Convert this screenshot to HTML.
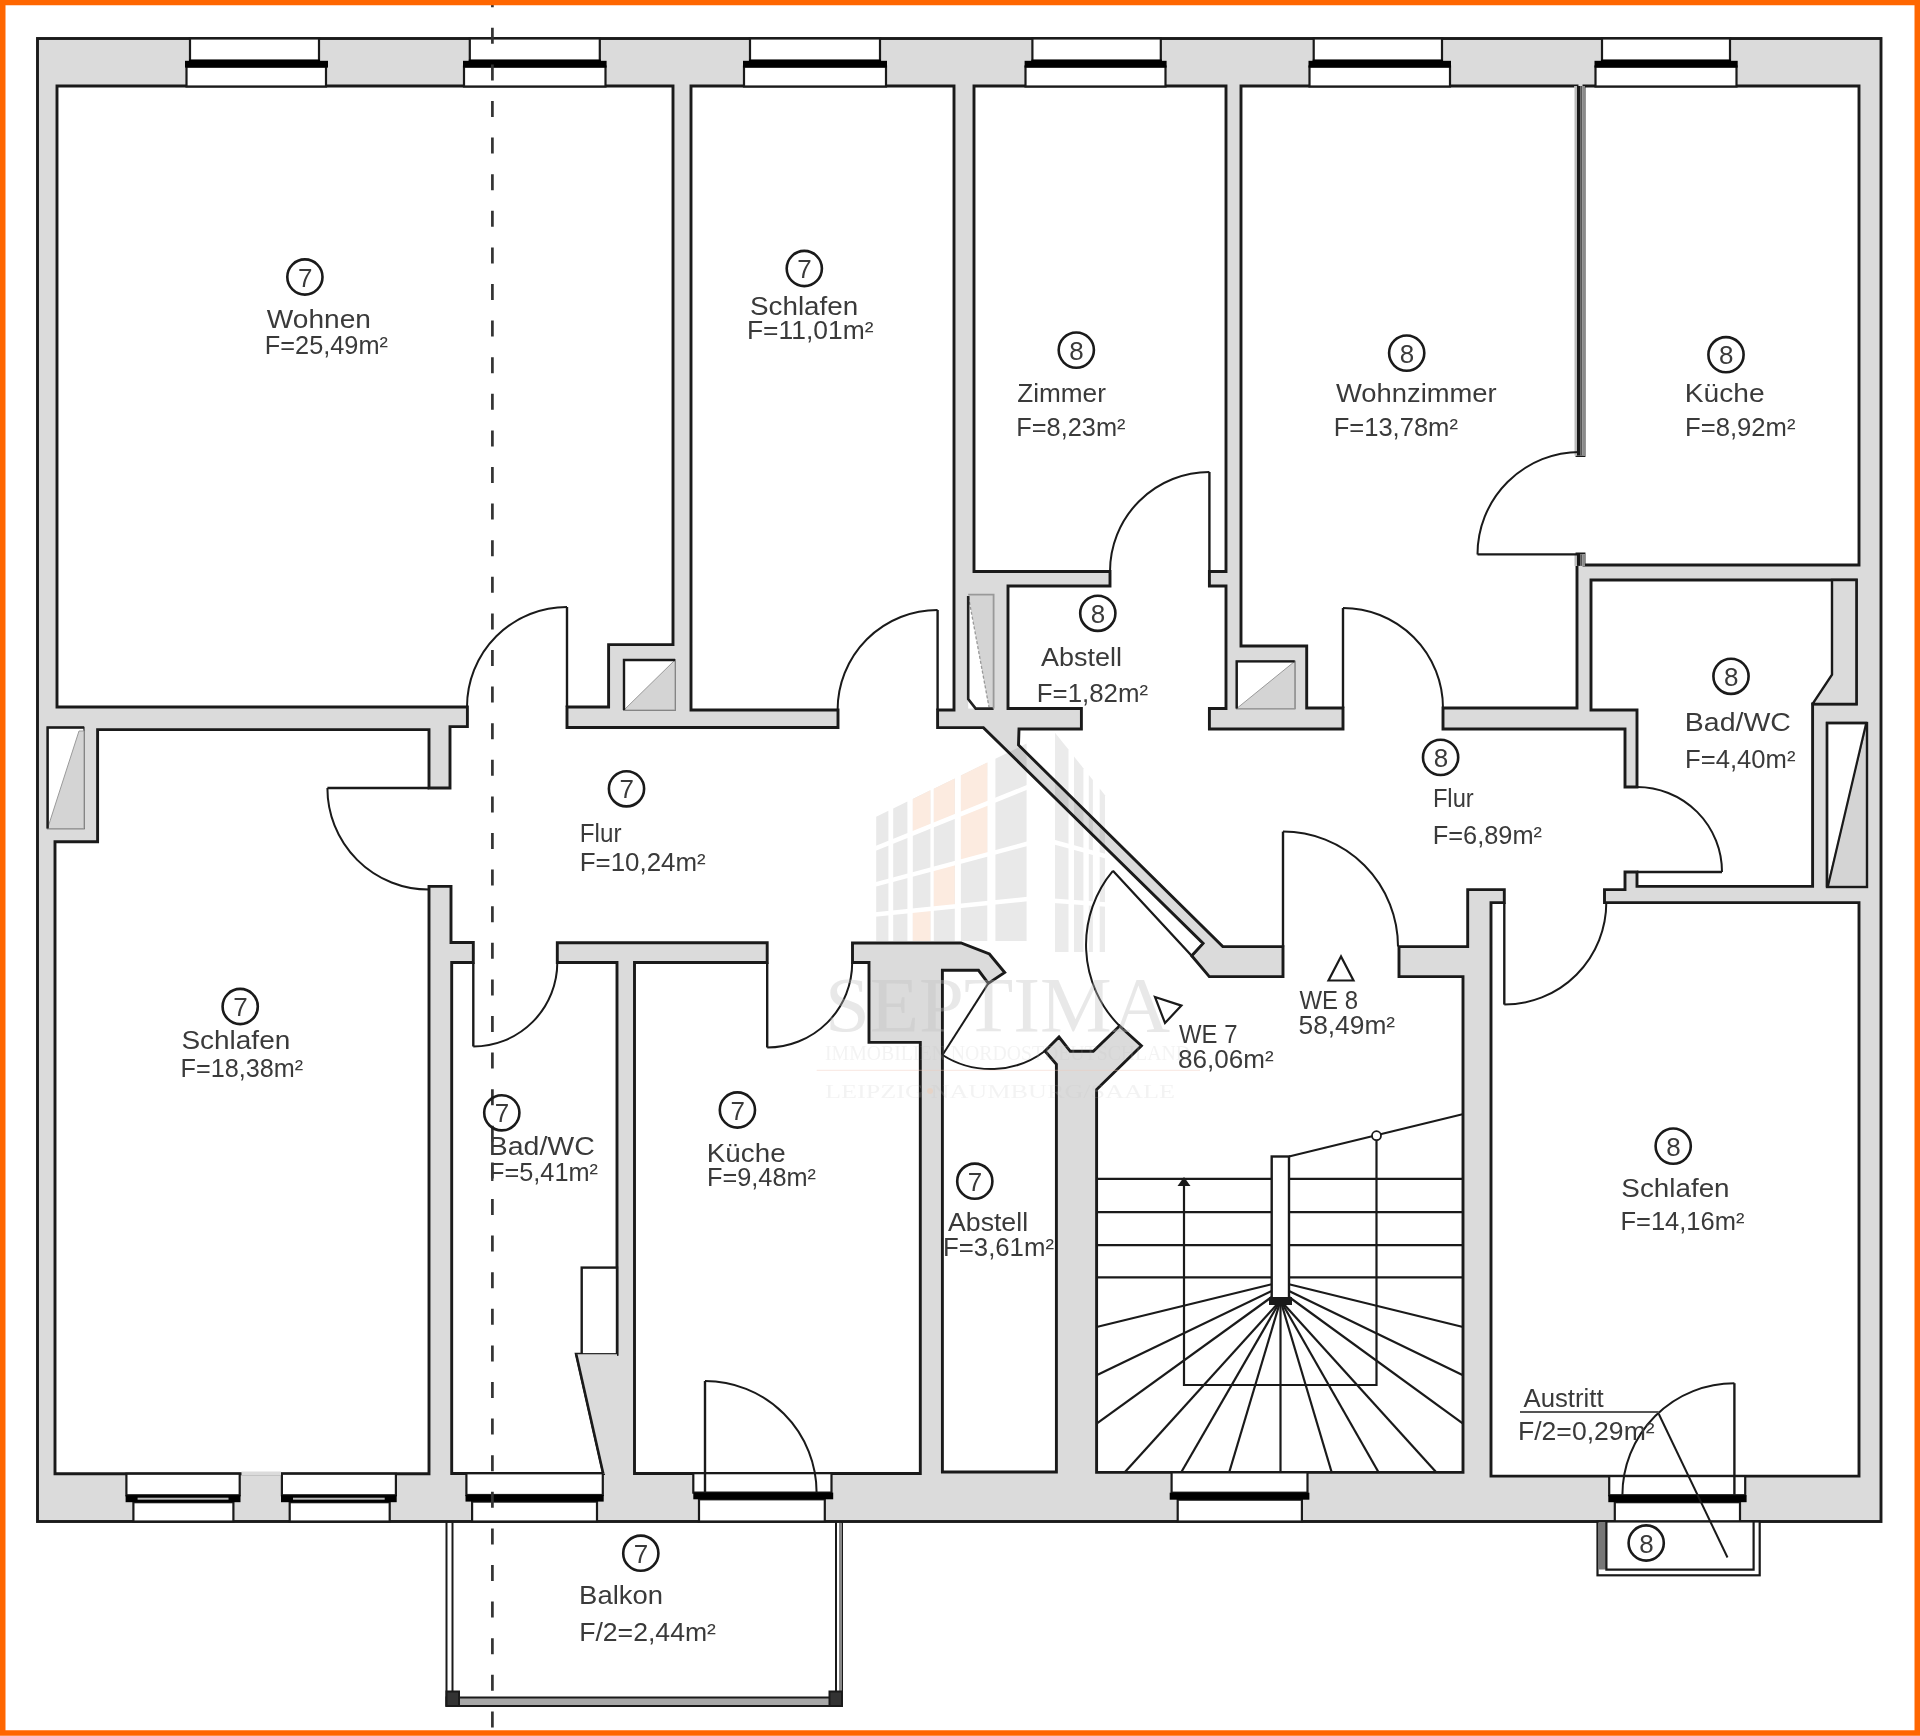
<!DOCTYPE html>
<html><head><meta charset="utf-8"><style>
html,body{margin:0;padding:0;background:#fff;}
body{width:1920px;height:1736px;overflow:hidden;}
svg{display:block;font-family:"Liberation Sans",sans-serif;}
</style></head><body>
<svg width="1920" height="1736" viewBox="0 0 1920 1736">
<rect x="0" y="0" width="1920" height="1736" fill="#fff"/>
<rect x="37.5" y="38.5" width="1843.5" height="1483" fill="#dbdbdb" stroke="#1a1a1a" stroke-width="2.9"/>
<path d="M974.00,86.00 L974.00,571.50 L1110.00,571.50 L1110.00,586.00 L1008.00,586.00 L1008.00,708.50 L1081.40,708.50 L1081.40,729.00 L1019.00,729.00 L1018.50,745.00 L1222.80,946.60 L1283.00,946.60 L1283.00,976.60 L1209.30,976.60 L1191.70,955.80 L1203.10,943.40 L983.40,727.60 L937.60,727.59 L937.60,710.00 L954.00,710.00 L954.00,86.00 L691.00,86.00 L691.00,710.00 L838.00,710.00 L838.00,727.57 L567.00,727.52 L567.00,707.00 L608.60,707.00 L608.60,644.60 L673.00,644.60 L673.00,86.00 L57.00,86.00 L57.00,707.00 L467.40,707.00 L467.40,726.60 L450.00,726.60 L450.00,788.00 L429.00,788.00 L429.00,729.60 L97.60,729.60 L97.60,841.80 L55.00,841.80 L55.00,1473.75 L429.00,1473.75 L429.00,886.40 L451.00,886.40 L451.00,942.50 L473.30,942.50 L473.30,962.50 L451.70,962.50 L451.70,1473.50 L603.30,1473.50 L576.30,1354.30 L617.00,1354.30 L617.00,962.50 L557.30,962.50 L557.30,942.59 L767.20,942.80 L767.20,962.50 L634.50,962.50 L634.50,1473.50 L920.30,1473.50 L920.30,1042.40 L869.00,1042.40 L869.00,962.50 L852.50,962.50 L852.50,942.89 L961.00,943.00 L989.40,954.00 L1004.70,972.50 L988.30,983.40 L978.50,970.30 L942.40,970.30 L942.40,1472.00 L1056.40,1472.00 L1056.40,1064.40 L1045.00,1051.00 L1059.00,1037.00 L1070.30,1051.30 L1093.30,1051.30 L1119.60,1026.00 L1141.40,1045.80 L1096.60,1089.50 L1096.60,1472.40 L1463.00,1472.40 L1463.00,976.60 L1399.00,976.60 L1399.00,946.60 L1467.70,946.60 L1467.70,889.60 L1504.30,889.60 L1504.30,902.60 L1491.00,902.60 L1491.00,1476.10 L1859.00,1476.10 L1859.00,902.60 L1604.50,902.60 L1604.50,889.60 L1625.00,889.60 L1625.00,872.00 L1637.00,872.00 L1637.00,886.40 L1812.60,886.40 L1812.60,704.00 L1856.40,704.00 L1856.40,580.00 L1591.00,580.00 L1591.00,710.00 L1637.00,710.00 L1637.00,787.00 L1625.00,787.00 L1625.00,729.00 L1443.00,729.00 L1443.00,708.00 L1577.00,708.00 L1577.00,554.00 L1584.00,554.00 L1584.00,565.00 L1859.00,565.00 L1859.00,86.00 L1584.00,86.00 L1584.00,455.50 L1577.00,455.50 L1577.00,86.00 L1241.00,86.00 L1241.00,646.00 L1306.70,646.00 L1306.70,708.00 L1343.00,708.00 L1343.00,729.00 L1209.40,729.00 L1209.40,708.50 L1226.00,708.50 L1226.00,586.00 L1209.40,586.00 L1209.40,571.50 L1226.00,571.50 L1226.00,86.00 Z" fill="#fff" fill-rule="evenodd" stroke="#1a1a1a" stroke-width="2.9" stroke-linejoin="miter"/>
<rect x="47.6" y="727.5" width="36.4" height="101.0" fill="#fff" stroke="#555" stroke-width="1.6"/>
<polygon points="79.0,731.0 84.0,731.0 84.0,828.5 47.6,828.5" fill="#d4d4d4" stroke="#9a9a9a" stroke-width="1"/>
<polyline points="47.6,828.5 47.6,727.5 84,727.5" fill="none" stroke="#1a1a1a" stroke-width="2.4"/>
<rect x="624" y="660" width="51.0" height="50.0" fill="#fff" stroke="#555" stroke-width="1.6"/>
<polygon points="675.0,660.0 675.0,710.0 624.0,710.0" fill="#d4d4d4" stroke="#9a9a9a" stroke-width="1"/>
<polyline points="624,710 624,660 675,660" fill="none" stroke="#1a1a1a" stroke-width="2.4"/>
<rect x="968.2" y="594.6" width="25.4" height="114" fill="#fff"/>
<polygon points="968.2,594.6 993.6,594.6 993.6,708.6 989,708.6" fill="#d4d4d4"/>
<line x1="968.5" y1="597" x2="989" y2="707" stroke="#999" stroke-width="1.3" stroke-dasharray="3 2"/>
<polyline points="968.2,596 968.2,699 975.7,708.6 993.6,708.6" fill="none" stroke="#222" stroke-width="2.6"/>
<polyline points="968.2,594.6 993.6,594.6 993.6,708.6" fill="none" stroke="#999" stroke-width="1.8"/>
<rect x="1236.7" y="661.4" width="58.0" height="47.1" fill="#fff" stroke="#555" stroke-width="1.6"/>
<polygon points="1294.7,661.4 1294.7,708.5 1236.7,708.5" fill="#d4d4d4" stroke="#9a9a9a" stroke-width="1"/>
<polyline points="1236.7,708.5 1236.7,661.4 1294.7,661.4" fill="none" stroke="#1a1a1a" stroke-width="2.4"/>
<rect x="1827" y="723" width="40.0" height="164.0" fill="#fff" stroke="#555" stroke-width="1.6"/>
<polygon points="1867.0,723.0 1867.0,887.0 1827.0,887.0" fill="#d4d4d4" stroke="#9a9a9a" stroke-width="1"/>
<polyline points="1827,887 1827,723 1867,723" fill="none" stroke="#1a1a1a" stroke-width="2.4"/>
<rect x="1827" y="723" width="40" height="164" fill="none" stroke="#1a1a1a" stroke-width="2.4"/>
<line x1="1866" y1="724" x2="1828" y2="886" stroke="#1a1a1a" stroke-width="2.2"/>
<rect x="1574.5" y="86" width="10.5" height="369.5" fill="#fff"/>
<rect x="1574.5" y="86" width="2.5" height="369.5" fill="#bbb"/>
<rect x="1577" y="86" width="3.2" height="369.5" fill="#1a1a1a"/>
<rect x="1580.2" y="86" width="2.3" height="369.5" fill="#555"/>
<rect x="1582.5" y="86" width="2.5" height="369.5" fill="#8a8a8a"/>
<rect x="1574.5" y="554.4" width="10.5" height="11.5" fill="#fff"/>
<rect x="1574.5" y="554.4" width="2.5" height="11.5" fill="#bbb"/>
<rect x="1577" y="554.4" width="3.2" height="11.5" fill="#1a1a1a"/>
<rect x="1580.2" y="554.4" width="2.3" height="11.5" fill="#555"/>
<rect x="1582.5" y="554.4" width="2.5" height="11.5" fill="#8a8a8a"/>
<polygon points="1832,580 1856.4,580 1856.4,704 1812.8,704 1812.8,703.6 1832,674.6" fill="#dbdbdb" stroke="#1a1a1a" stroke-width="2.4"/>
<rect x="190" y="38.5" width="129.0" height="22.3" fill="#fff" stroke="#1a1a1a" stroke-width="2.2"/>
<rect x="186.5" y="66.5" width="139.5" height="20" fill="#fff" stroke="#1a1a1a" stroke-width="2.2"/>
<rect x="185" y="60.8" width="143.0" height="6.8" fill="#000"/>
<rect x="189" y="59.6" width="131.0" height="3" fill="#000"/>
<rect x="469.8" y="38.5" width="130.0" height="22.3" fill="#fff" stroke="#1a1a1a" stroke-width="2.2"/>
<rect x="464" y="66.5" width="141.5" height="20" fill="#fff" stroke="#1a1a1a" stroke-width="2.2"/>
<rect x="463" y="60.8" width="143.6" height="6.8" fill="#000"/>
<rect x="468.8" y="59.6" width="132.0" height="3" fill="#000"/>
<rect x="750" y="38.5" width="130.0" height="22.3" fill="#fff" stroke="#1a1a1a" stroke-width="2.2"/>
<rect x="744" y="66.5" width="142.0" height="20" fill="#fff" stroke="#1a1a1a" stroke-width="2.2"/>
<rect x="743" y="60.8" width="144.0" height="6.8" fill="#000"/>
<rect x="749" y="59.6" width="132.0" height="3" fill="#000"/>
<rect x="1032.4" y="38.5" width="128.4" height="22.3" fill="#fff" stroke="#1a1a1a" stroke-width="2.2"/>
<rect x="1025.5" y="66.5" width="140.0" height="20" fill="#fff" stroke="#1a1a1a" stroke-width="2.2"/>
<rect x="1024.6" y="60.8" width="142.0" height="6.8" fill="#000"/>
<rect x="1031.4" y="59.6" width="130.4" height="3" fill="#000"/>
<rect x="1313.7" y="38.5" width="128.3" height="22.3" fill="#fff" stroke="#1a1a1a" stroke-width="2.2"/>
<rect x="1309.5" y="66.5" width="140.5" height="20" fill="#fff" stroke="#1a1a1a" stroke-width="2.2"/>
<rect x="1308.5" y="60.8" width="142.5" height="6.8" fill="#000"/>
<rect x="1312.7" y="59.6" width="130.3" height="3" fill="#000"/>
<rect x="1602" y="38.5" width="128.0" height="22.3" fill="#fff" stroke="#1a1a1a" stroke-width="2.2"/>
<rect x="1595.5" y="66.5" width="141.0" height="20" fill="#fff" stroke="#1a1a1a" stroke-width="2.2"/>
<rect x="1594.5" y="60.8" width="143.2" height="6.8" fill="#000"/>
<rect x="1601" y="59.6" width="130.0" height="3" fill="#000"/>
<rect x="126.4" y="1473.75" width="113.3" height="21.5" fill="#fff" stroke="#1a1a1a" stroke-width="2.2"/>
<rect x="133.4" y="1502.2" width="100.0" height="19.3" fill="#fff" stroke="#1a1a1a" stroke-width="2.2"/>
<rect x="125.6" y="1495.2" width="114.9" height="7.0" fill="#000"/>
<rect x="137.6" y="1497.7" width="90.9" height="2" fill="#bbb"/>
<rect x="281.9" y="1473.75" width="114.0" height="21.5" fill="#fff" stroke="#1a1a1a" stroke-width="2.2"/>
<rect x="289.7" y="1502.2" width="100.0" height="19.3" fill="#fff" stroke="#1a1a1a" stroke-width="2.2"/>
<rect x="281" y="1495.2" width="115.7" height="7.0" fill="#000"/>
<rect x="293" y="1497.7" width="91.7" height="2" fill="#bbb"/>
<rect x="466.4" y="1473.3" width="136.4" height="21.7" fill="#fff" stroke="#1a1a1a" stroke-width="2.2"/>
<rect x="472.1" y="1501.6" width="124.9" height="19.9" fill="#fff" stroke="#1a1a1a" stroke-width="2.2"/>
<rect x="465.5" y="1495" width="138.2" height="6.6" fill="#000"/>
<rect x="693.3" y="1473.2" width="138.2" height="19.4" fill="#fff" stroke="#1a1a1a" stroke-width="2.2"/>
<rect x="699" y="1499.3" width="125.8" height="22.2" fill="#fff" stroke="#1a1a1a" stroke-width="2.2"/>
<rect x="693.3" y="1492.6" width="139.9" height="6.7" fill="#000"/>
<rect x="1171.6" y="1472.4" width="135.9" height="20.3" fill="#fff" stroke="#1a1a1a" stroke-width="2.2"/>
<rect x="1177.7" y="1499.7" width="124.2" height="21.8" fill="#fff" stroke="#1a1a1a" stroke-width="2.2"/>
<rect x="1169.7" y="1492.7" width="139.7" height="7.0" fill="#000"/>
<rect x="1609.2" y="1476.1" width="136.0" height="19.1" fill="#fff" stroke="#1a1a1a" stroke-width="2.2"/>
<rect x="1614.8" y="1502.2" width="125.2" height="19.3" fill="#fff" stroke="#1a1a1a" stroke-width="2.2"/>
<rect x="1608.3" y="1495.2" width="138.3" height="7.0" fill="#000"/>
<rect x="241.5" y="1471.5" width="39.5" height="4" fill="#dbdbdb"/>
<line x1="567" y1="707" x2="567" y2="607" stroke="#1a1a1a" stroke-width="2.4"/>
<path d="M567,607 A100.0,100.0 0 0 0 467,707" fill="none" stroke="#1a1a1a" stroke-width="2.0"/>
<line x1="937.6" y1="710" x2="937.6" y2="610" stroke="#1a1a1a" stroke-width="2.4"/>
<path d="M937.6,610 A100.0,100.0 0 0 0 837.6,710" fill="none" stroke="#1a1a1a" stroke-width="2.0"/>
<line x1="1209.4" y1="571.5" x2="1209.4" y2="472" stroke="#1a1a1a" stroke-width="2.4"/>
<path d="M1209.4,472 A99.5,99.5 0 0 0 1110,571.5" fill="none" stroke="#1a1a1a" stroke-width="2.0"/>
<line x1="1343" y1="708" x2="1343" y2="608" stroke="#1a1a1a" stroke-width="2.4"/>
<path d="M1343,608 A100.0,100.0 0 0 1 1443,708" fill="none" stroke="#1a1a1a" stroke-width="2.0"/>
<line x1="1580" y1="554.4" x2="1477.5" y2="554.4" stroke="#1a1a1a" stroke-width="2.4"/>
<path d="M1477.5,554.4 A102.5,102.5 0 0 1 1580,452" fill="none" stroke="#1a1a1a" stroke-width="2.0"/>
<line x1="1637" y1="872" x2="1722" y2="872" stroke="#1a1a1a" stroke-width="2.4"/>
<path d="M1722,872 A85.0,85.0 0 0 0 1637,787" fill="none" stroke="#1a1a1a" stroke-width="2.0"/>
<line x1="1504.3" y1="902.6" x2="1504.3" y2="1004.6" stroke="#1a1a1a" stroke-width="2.4"/>
<path d="M1504.3,1004.6 A102.0,102.0 0 0 0 1606.3,902.6" fill="none" stroke="#1a1a1a" stroke-width="2.0"/>
<line x1="1283" y1="946.6" x2="1283" y2="831.6" stroke="#1a1a1a" stroke-width="2.4"/>
<path d="M1283,831.6 A115.0,115.0 0 0 1 1398,946.6" fill="none" stroke="#1a1a1a" stroke-width="2.0"/>
<line x1="429" y1="788" x2="327.4" y2="788" stroke="#1a1a1a" stroke-width="2.4"/>
<path d="M327.4,788 A101.6,101.6 0 0 0 429,889.6" fill="none" stroke="#1a1a1a" stroke-width="2.0"/>
<line x1="473.3" y1="962.5" x2="473.3" y2="1046.5" stroke="#1a1a1a" stroke-width="2.4"/>
<path d="M473.3,1046.5 A84.0,84.0 0 0 0 557.3,962.5" fill="none" stroke="#1a1a1a" stroke-width="2.0"/>
<line x1="767.2" y1="962.5" x2="767.2" y2="1047.5" stroke="#1a1a1a" stroke-width="2.4"/>
<path d="M767.2,1047.5 A85.0,85.0 0 0 0 852.2,962.5" fill="none" stroke="#1a1a1a" stroke-width="2.0"/>
<line x1="705" y1="1492.6" x2="705" y2="1381" stroke="#1a1a1a" stroke-width="2.4"/>
<path d="M705,1381 A111.6,111.6 0 0 1 816.6,1492.6" fill="none" stroke="#1a1a1a" stroke-width="2.0"/>
<line x1="1734.4" y1="1495.2" x2="1734.4" y2="1383.2" stroke="#1a1a1a" stroke-width="2.4"/>
<path d="M1734.4,1383.2 A112.0,112.0 0 0 0 1622.4,1495.2" fill="none" stroke="#1a1a1a" stroke-width="2.0"/>
<path d="M1112.9,870.8 A115.2,115.2 0 0 0 1119.6,1026" fill="none" stroke="#1a1a1a" stroke-width="2"/>
<polyline points="1112.9,870.8 1191.7,955.8 1203.1,943.4" fill="none" stroke="#1a1a1a" stroke-width="2.2"/>
<line x1="988.3" y1="983.4" x2="942.5" y2="1055" stroke="#1a1a1a" stroke-width="2"/>
<path d="M942.5,1055 A90,90 0 0 0 1045,1051" fill="none" stroke="#1a1a1a" stroke-width="2"/>
<rect x="581.7" y="1267.6" width="35.3" height="86.7" fill="#fff" stroke="#1a1a1a" stroke-width="2.4"/>
<polygon points="576.3,1354.3 617,1354.3 617,1473.5 603.3,1473.5" fill="#dbdbdb" stroke="none"/>
<polyline points="576.3,1354.3 603.3,1473.5" fill="none" stroke="#1a1a1a" stroke-width="2.4"/>
<g stroke="#1a1a1a" stroke-width="2.2"><line x1="1096.6" y1="1178.8" x2="1271.7" y2="1178.8"/><line x1="1289" y1="1178.8" x2="1463" y2="1178.8"/><line x1="1096.6" y1="1212.2" x2="1271.7" y2="1212.2"/><line x1="1289" y1="1212.2" x2="1463" y2="1212.2"/><line x1="1096.6" y1="1245.2" x2="1271.7" y2="1245.2"/><line x1="1289" y1="1245.2" x2="1463" y2="1245.2"/><line x1="1096.6" y1="1277.4" x2="1271.7" y2="1277.4"/><line x1="1289" y1="1277.4" x2="1463" y2="1277.4"/><line x1="1271.7" y1="1284.3" x2="1096.6" y2="1327"/><line x1="1271.7" y1="1291" x2="1096.6" y2="1375.3"/><line x1="1271.7" y1="1297" x2="1096.6" y2="1423.7"/><line x1="1289" y1="1284.3" x2="1463" y2="1327"/><line x1="1289" y1="1291" x2="1463" y2="1375.3"/><line x1="1289" y1="1297" x2="1463" y2="1423.7"/><line x1="1280.5" y1="1300.5" x2="1125" y2="1472"/><line x1="1280.5" y1="1300.5" x2="1181.4" y2="1472"/><line x1="1280.5" y1="1300.5" x2="1229.3" y2="1472"/><line x1="1280.5" y1="1300.5" x2="1280.5" y2="1472"/><line x1="1280.5" y1="1300.5" x2="1331.6" y2="1472"/><line x1="1280.5" y1="1300.5" x2="1378.4" y2="1472"/><line x1="1280.5" y1="1300.5" x2="1436" y2="1472"/></g>
<rect x="1271.7" y="1156.5" width="17.3" height="144" fill="#fff" stroke="#1a1a1a" stroke-width="2.4"/>
<rect x="1269" y="1297" width="23" height="8" fill="#1a1a1a"/>
<polyline points="1184,1183 1184,1385 1376.5,1385 1376.5,1135.7" fill="none" stroke="#1a1a1a" stroke-width="2.2"/>
<line x1="1289" y1="1156.5" x2="1462.5" y2="1114.3" stroke="#1a1a1a" stroke-width="2"/>
<circle cx="1376.5" cy="1135.7" r="4.5" fill="#fff" stroke="#1a1a1a" stroke-width="1.8"/>
<polygon points="1184,1177 1177.5,1186 1190.5,1186" fill="#1a1a1a"/>
<g fill="none" stroke="#1a1a1a" stroke-width="2">
<line x1="446.5" y1="1522" x2="446.5" y2="1706"/>
<line x1="452.5" y1="1522" x2="452.5" y2="1698"/>
<line x1="836" y1="1522" x2="836" y2="1698"/>
<line x1="842" y1="1522" x2="842" y2="1706"/>
</g>
<rect x="839" y="1523" width="3" height="174" fill="#888"/>
<rect x="446.5" y="1697.5" width="395.5" height="8.5" fill="#a8a8a8" stroke="#1a1a1a" stroke-width="2"/>
<rect x="446.5" y="1691.5" width="12.5" height="14.5" fill="#333" stroke="#1a1a1a" stroke-width="2"/>
<rect x="829.5" y="1691.5" width="12.5" height="14.5" fill="#333" stroke="#1a1a1a" stroke-width="2"/>
<rect x="1597.5" y="1521.5" width="162.2" height="53.8" fill="#fff" stroke="#1a1a1a" stroke-width="2.2"/>
<rect x="1598.6" y="1522.5" width="7.8" height="47" fill="#777"/>
<polyline points="1606.4,1521.5 1606.4,1569.7 1753.6,1569.7 1753.6,1521.5" fill="none" stroke="#1a1a1a" stroke-width="2.2"/>
<line x1="1658.8" y1="1414" x2="1727.5" y2="1557.5" stroke="#1a1a1a" stroke-width="2"/>
<line x1="1520" y1="1412" x2="1658.8" y2="1412" stroke="#555" stroke-width="2.2"/>
<line x1="492.4" y1="-8.8" x2="492.4" y2="1736" stroke="#333" stroke-width="2.7" stroke-dasharray="16 20.6"/>
<circle cx="304.9" cy="277" r="17.6" fill="none" stroke="#1a1a1a" stroke-width="2.6"/>
<text x="305.2" y="286.5" font-size="26" text-anchor="middle" fill="#3a3a3a">7</text>
<circle cx="804.3" cy="268.5" r="17.6" fill="none" stroke="#1a1a1a" stroke-width="2.6"/>
<text x="804.5999999999999" y="278.0" font-size="26" text-anchor="middle" fill="#3a3a3a">7</text>
<circle cx="1076.3" cy="350.1" r="17.6" fill="none" stroke="#1a1a1a" stroke-width="2.6"/>
<text x="1076.6" y="359.6" font-size="26" text-anchor="middle" fill="#3a3a3a">8</text>
<circle cx="1406.7" cy="353.1" r="17.6" fill="none" stroke="#1a1a1a" stroke-width="2.6"/>
<text x="1407.0" y="362.6" font-size="26" text-anchor="middle" fill="#3a3a3a">8</text>
<circle cx="1726" cy="354.7" r="17.6" fill="none" stroke="#1a1a1a" stroke-width="2.6"/>
<text x="1726.3" y="364.2" font-size="26" text-anchor="middle" fill="#3a3a3a">8</text>
<circle cx="1097.8" cy="613.3" r="17.6" fill="none" stroke="#1a1a1a" stroke-width="2.6"/>
<text x="1098.1" y="622.8" font-size="26" text-anchor="middle" fill="#3a3a3a">8</text>
<circle cx="1731" cy="676.3" r="17.6" fill="none" stroke="#1a1a1a" stroke-width="2.6"/>
<text x="1731.3" y="685.8" font-size="26" text-anchor="middle" fill="#3a3a3a">8</text>
<circle cx="1440.6" cy="757.4" r="17.6" fill="none" stroke="#1a1a1a" stroke-width="2.6"/>
<text x="1440.8999999999999" y="766.9" font-size="26" text-anchor="middle" fill="#3a3a3a">8</text>
<circle cx="626.5" cy="788.8" r="17.6" fill="none" stroke="#1a1a1a" stroke-width="2.6"/>
<text x="626.8" y="798.3" font-size="26" text-anchor="middle" fill="#3a3a3a">7</text>
<circle cx="240.2" cy="1006.5" r="17.6" fill="none" stroke="#1a1a1a" stroke-width="2.6"/>
<text x="240.5" y="1016.0" font-size="26" text-anchor="middle" fill="#3a3a3a">7</text>
<circle cx="501.8" cy="1112.8" r="17.6" fill="none" stroke="#1a1a1a" stroke-width="2.6"/>
<text x="502.1" y="1122.3" font-size="26" text-anchor="middle" fill="#3a3a3a">7</text>
<circle cx="737.4" cy="1110" r="17.6" fill="none" stroke="#1a1a1a" stroke-width="2.6"/>
<text x="737.6999999999999" y="1119.5" font-size="26" text-anchor="middle" fill="#3a3a3a">7</text>
<circle cx="974.8" cy="1181.2" r="17.6" fill="none" stroke="#1a1a1a" stroke-width="2.6"/>
<text x="975.0999999999999" y="1190.7" font-size="26" text-anchor="middle" fill="#3a3a3a">7</text>
<circle cx="1673.2" cy="1146.1" r="17.6" fill="none" stroke="#1a1a1a" stroke-width="2.6"/>
<text x="1673.5" y="1155.6" font-size="26" text-anchor="middle" fill="#3a3a3a">8</text>
<circle cx="640.8" cy="1553.2" r="17.6" fill="none" stroke="#1a1a1a" stroke-width="2.6"/>
<text x="641.0999999999999" y="1562.7" font-size="26" text-anchor="middle" fill="#3a3a3a">7</text>
<circle cx="1646.2" cy="1543" r="17.6" fill="none" stroke="#1a1a1a" stroke-width="2.6"/>
<text x="1646.5" y="1552.5" font-size="26" text-anchor="middle" fill="#3a3a3a">8</text>
<text x="266.80" y="328.3" font-size="26" fill="#3a3a3a" textLength="104.19" lengthAdjust="spacingAndGlyphs">Wohnen</text>
<text x="264.85" y="354.3" font-size="26" fill="#3a3a3a" textLength="123.09" lengthAdjust="spacingAndGlyphs">F=25,49m²</text>
<text x="749.93" y="314.5" font-size="26" fill="#3a3a3a" textLength="108.34" lengthAdjust="spacingAndGlyphs">Schlafen</text>
<text x="746.97" y="339" font-size="26" fill="#3a3a3a" textLength="126.56" lengthAdjust="spacingAndGlyphs">F=11,01m²</text>
<text x="1017.19" y="402.4" font-size="26" fill="#3a3a3a" textLength="88.70" lengthAdjust="spacingAndGlyphs">Zimmer</text>
<text x="1016.25" y="436.3" font-size="26" fill="#3a3a3a" textLength="109.25" lengthAdjust="spacingAndGlyphs">F=8,23m²</text>
<text x="1336.00" y="402.4" font-size="26" fill="#3a3a3a" textLength="160.71" lengthAdjust="spacingAndGlyphs">Wohnzimmer</text>
<text x="1333.63" y="436.3" font-size="26" fill="#3a3a3a" textLength="124.31" lengthAdjust="spacingAndGlyphs">F=13,78m²</text>
<text x="1684.84" y="402.4" font-size="26" fill="#3a3a3a" textLength="79.76" lengthAdjust="spacingAndGlyphs">Küche</text>
<text x="1685.03" y="435.5" font-size="26" fill="#3a3a3a" textLength="110.47" lengthAdjust="spacingAndGlyphs">F=8,92m²</text>
<text x="1041.00" y="666" font-size="26" fill="#3a3a3a" textLength="80.88" lengthAdjust="spacingAndGlyphs">Abstell</text>
<text x="1036.81" y="702" font-size="26" fill="#3a3a3a" textLength="111.19" lengthAdjust="spacingAndGlyphs">F=1,82m²</text>
<text x="1684.81" y="731" font-size="26" fill="#3a3a3a" textLength="106.08" lengthAdjust="spacingAndGlyphs">Bad/WC</text>
<text x="1685.03" y="767.7" font-size="26" fill="#3a3a3a" textLength="110.47" lengthAdjust="spacingAndGlyphs">F=4,40m²</text>
<text x="1432.88" y="807" font-size="26" fill="#3a3a3a" textLength="40.84" lengthAdjust="spacingAndGlyphs">Flur</text>
<text x="1432.75" y="843.5" font-size="26" fill="#3a3a3a" textLength="109.25" lengthAdjust="spacingAndGlyphs">F=6,89m²</text>
<text x="579.84" y="842" font-size="26" fill="#3a3a3a" textLength="41.69" lengthAdjust="spacingAndGlyphs">Flur</text>
<text x="579.71" y="870.5" font-size="26" fill="#3a3a3a" textLength="125.94" lengthAdjust="spacingAndGlyphs">F=10,24m²</text>
<text x="181.42" y="1049.2" font-size="26" fill="#3a3a3a" textLength="108.85" lengthAdjust="spacingAndGlyphs">Schlafen</text>
<text x="180.56" y="1077" font-size="26" fill="#3a3a3a" textLength="122.68" lengthAdjust="spacingAndGlyphs">F=18,38m²</text>
<text x="488.81" y="1154.8" font-size="26" fill="#3a3a3a" textLength="105.98" lengthAdjust="spacingAndGlyphs">Bad/WC</text>
<text x="489.05" y="1180.5" font-size="26" fill="#3a3a3a" textLength="108.95" lengthAdjust="spacingAndGlyphs">F=5,41m²</text>
<text x="706.86" y="1161.6" font-size="26" fill="#3a3a3a" textLength="78.72" lengthAdjust="spacingAndGlyphs">Küche</text>
<text x="707.05" y="1186" font-size="26" fill="#3a3a3a" textLength="108.95" lengthAdjust="spacingAndGlyphs">F=9,48m²</text>
<text x="948.00" y="1230.6" font-size="26" fill="#3a3a3a" textLength="80.07" lengthAdjust="spacingAndGlyphs">Abstell</text>
<text x="943.02" y="1256" font-size="26" fill="#3a3a3a" textLength="110.98" lengthAdjust="spacingAndGlyphs">F=3,61m²</text>
<text x="1179.00" y="1042.8" font-size="26" fill="#3a3a3a" textLength="58.45" lengthAdjust="spacingAndGlyphs">WE 7</text>
<text x="1178.00" y="1068" font-size="26" fill="#3a3a3a" textLength="95.70" lengthAdjust="spacingAndGlyphs">86,06m²</text>
<text x="1299.50" y="1009" font-size="26" fill="#3a3a3a" textLength="58.53" lengthAdjust="spacingAndGlyphs">WE 8</text>
<text x="1298.49" y="1034" font-size="26" fill="#3a3a3a" textLength="96.61" lengthAdjust="spacingAndGlyphs">58,49m²</text>
<text x="1621.33" y="1196.5" font-size="26" fill="#3a3a3a" textLength="108.24" lengthAdjust="spacingAndGlyphs">Schlafen</text>
<text x="1620.44" y="1230" font-size="26" fill="#3a3a3a" textLength="124.01" lengthAdjust="spacingAndGlyphs">F=14,16m²</text>
<text x="1523.50" y="1406.7" font-size="26" fill="#3a3a3a" textLength="80.12" lengthAdjust="spacingAndGlyphs">Austritt</text>
<text x="1517.95" y="1440" font-size="26" fill="#3a3a3a" textLength="136.73" lengthAdjust="spacingAndGlyphs">F/2=0,29m²</text>
<text x="579.09" y="1604.3" font-size="26" fill="#3a3a3a" textLength="83.89" lengthAdjust="spacingAndGlyphs">Balkon</text>
<text x="579.15" y="1641" font-size="26" fill="#3a3a3a" textLength="136.84" lengthAdjust="spacingAndGlyphs">F/2=2,44m²</text>
<polygon points="1341,956.4 1328.5,980.5 1353.5,980.5" fill="none" stroke="#1a1a1a" stroke-width="2.2"/>
<polygon points="1155,997 1181.4,1005.6 1165,1023" fill="none" stroke="#1a1a1a" stroke-width="2.2"/>
<g style="mix-blend-mode:multiply"><polygon points="876.2,816.7 888.4,810.8 888.4,941 876.2,941" fill="#e9e9e9"/><polygon points="893.2,808.4 907.4,801.5 907.4,941 893.2,941" fill="#e9e9e9"/><polygon points="912.8,798.9 930.4,790.3 930.4,941 912.8,941" fill="#e9e9e9"/><polygon points="933.8,788.7 954.8,778.4 954.8,941 933.8,941" fill="#e9e9e9"/><polygon points="960.9,775.5 987.3,762.6 987.3,941 960.9,941" fill="#e9e9e9"/><polygon points="995.4,758.7 1026.6,743.5 1026.6,941 995.4,941" fill="#e9e9e9"/><polygon points="1055,732.7 1068.5,749.6 1068.5,952 1055,952" fill="#ebebeb"/><polygon points="1074,756.5 1083.4,768.2 1083.4,952 1074,952" fill="#ebebeb"/><polygon points="1088.8,775.0 1092.9,780.1 1092.9,952 1088.8,952" fill="#ebebeb"/><polygon points="1099.7,788.6 1105,795.2 1105,952 1099.7,952" fill="#ebebeb"/><polygon points="912.8,798.9 930.4,790.3 930.4,826.3 912.8,833.3" fill="#fcebe0"/><polygon points="933.8,788.7 954.8,778.4 954.8,816.7 933.8,825.0" fill="#fcebe0"/><polygon points="960.9,775.5 987.3,762.6 987.3,803.8 960.9,814.2" fill="#fcebe0"/><polygon points="960.9,814.2 987.3,803.8 987.3,854.9 960.9,861.6" fill="#fcebe0"/><polygon points="933.8,868.4 954.8,863.1 954.8,906.3 933.8,908.4" fill="#fcebe0"/><polygon points="912.8,910.4 930.4,908.7 930.4,941.0 912.8,941.0" fill="#fcebe0"/><line x1="870" y1="850.7" x2="1030" y2="786.2" stroke="#fff" stroke-width="4.5"/><line x1="870" y1="885.9" x2="1030" y2="843.0" stroke="#fff" stroke-width="4.5"/><line x1="870" y1="915.0" x2="1030" y2="898.8" stroke="#fff" stroke-width="4.5"/><line x1="1050" y1="841.0" x2="1110" y2="857.3" stroke="#fff" stroke-width="4.5"/><line x1="1050" y1="900.6" x2="1110" y2="904.7" stroke="#fff" stroke-width="4.5"/></g>
<g font-family="Liberation Serif, serif" fill="#c0c0c0" opacity="0.36"><text x="825" y="1030.8" font-size="78" textLength="345" lengthAdjust="spacingAndGlyphs">SEPTIMA</text></g>
<g font-family="Liberation Serif, serif" fill="#c0c0c0" opacity="0.18"><text x="825" y="1060" font-size="22" textLength="365" lengthAdjust="spacingAndGlyphs">IMMOBILIEN NORDOSTDEUTSCHLAND</text><text x="825" y="1097.5" font-size="19" textLength="350" lengthAdjust="spacingAndGlyphs">LEIPZIG  NAUMBURG/SAALE</text></g>
<line x1="816.7" y1="1070.4" x2="1200" y2="1070.4" stroke="#f0c8b8" stroke-width="1.2" opacity="0.35"/>
<circle cx="930" cy="1091" r="3" fill="#f6c9a8" opacity="0.4"/>
<rect x="2.75" y="2.5" width="1914.5" height="1730.5" fill="none" stroke="#ff6600" stroke-width="5.5"/>
</svg>
</body></html>
